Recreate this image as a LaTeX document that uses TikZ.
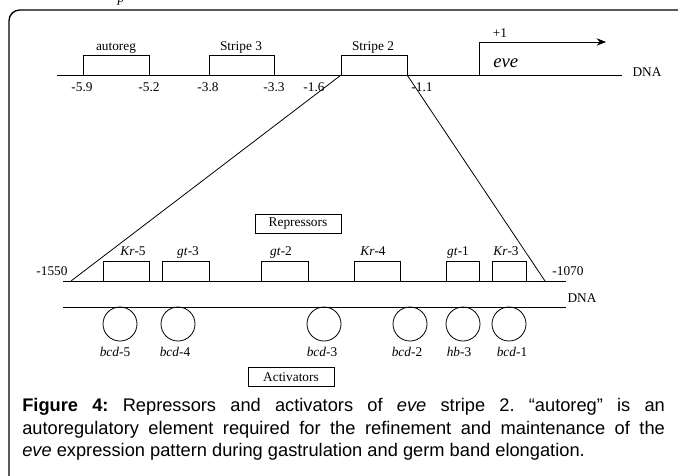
\documentclass[tikz,border=0pt]{standalone}
\usepackage{fontspec}
\setmainfont{Liberation Serif}
\newfontfamily\capfont{Liberation Sans}
\usetikzlibrary{fit,arrows.meta}

\begin{document}
\begin{tikzpicture}[x=0.75pt,y=0.75pt,yscale=-1,xscale=1,
  site/.style={draw, line width=0.6pt, inner sep=0pt},
  tag/.style={font=\fontsize{10}{12}\selectfont, inner sep=0pt, anchor=base},
  bind/.style={draw, circle, line width=0.6pt, minimum size=25.5pt, inner sep=0pt},
  legend/.style={draw, line width=0.6pt, minimum width=64.5pt, minimum height=14.5pt, inner sep=0pt, font=\fontsize{10}{12}\selectfont},
  dna/.style={line width=0.6pt}]
\useasboundingbox (0,0) rectangle (678,475);

%Frame
\draw [line width=1pt, rounded corners=8] (9,480) -- (9,10) -- (690,10) ;
% Text Node (cut off line above)
\node [tag, font=\itshape\fontsize{10}{12}\selectfont] (cut) at (121,2) {p};

%Straight Lines: upper DNA
\draw [dna] (57,75) -- (622,75) ;
\node [tag] (dnaup) at (647,76) {DNA};
%Shape: Rectangle
\node [site, fit={(83,55) (149,75)}] (autoreg) {};
\node [site, fit={(209,55) (274,75)}] (stripe3) {};
\node [site, fit={(341,55) (407,75)}] (stripe2) {};
% Text Node
\node [tag] (autoregtxt) at (116,50) {autoreg};
\node [tag] (stripe3txt) at (241,50) {Stripe 3};
\node [tag] (stripe2txt) at (373,50) {Stripe 2};
% Text Node
\node [tag] (m59) at (82,91) {-5.9};
\node [tag] (m52) at (149,91) {-5.2};
\node [tag] (m38) at (208,91) {-3.8};
\node [tag] (m33) at (274,91) {-3.3};
\node [tag] (m16) at (314,91) {-1.6};
\node [tag] (m11) at (422,91) {-1.1};

%Transcription start
\coordinate (tss) at (479,75) ;
\coordinate (tip) at (606,42) ;
\draw [dna, -{Stealth[length=7pt,width=5.5pt]}] (tss) |- (tip) ;
\node [tag] (plus1) at (500,37) {+1};
\node [tag, anchor=base west, font=\itshape\fontsize{14}{16}\selectfont] (eve) at (493,67) {eve};

%Zoom lines
\coordinate (lowleft) at (71,281) ;
\coordinate (lowright) at (545,281) ;
\draw [dna] (stripe2.south west) -- (lowleft) ;
\draw [dna] (stripe2.south east) -- (lowright) ;

%Straight Lines: lower DNA
\draw [dna] (63,281) -- (566,281) ;
\draw [dna] (63,307) -- (566,307) ;
\node [tag] (m1550) at (52,275) {-1550};
\node [tag] (m1070) at (568,275) {-1070};
\node [tag] (dnalow) at (582,302) {DNA};

%Repressor sites
\node [site, fit={(103,261) (149,281)}] (kr5) {};
\node [site, fit={(162,261) (209,281)}] (gt3) {};
\node [site, fit={(261,261) (308,281)}] (gt2) {};
\node [site, fit={(354,261) (400,281)}] (kr4) {};
\node [site, fit={(446,261) (479,281)}] (gt1) {};
\node [site, fit={(492,261) (526,281)}] (kr3) {};
% Text Node
\node [tag] (kr5txt) at (133,255) {\textit{Kr}-5};
\node [tag] (gt3txt) at (188,255) {\textit{gt}-3};
\node [tag] (gt2txt) at (281,255) {\textit{gt}-2};
\node [tag] (kr4txt) at (373,255) {\textit{Kr}-4};
\node [tag] (gt1txt) at (458,255) {\textit{gt}-1};
\node [tag] (kr3txt) at (506,255) {\textit{Kr}-3};
\node [legend] (repressors) at (298,224) {Repressors};

%Activator sites
\node [bind] (bcd5) at (120,324) {};
\node [bind] (bcd4) at (178,324) {};
\node [bind] (bcd3) at (324,324) {};
\node [bind] (bcd2) at (410,324) {};
\node [bind] (hb3) at (463,324) {};
\node [bind] (bcd1) at (509,324) {};
% Text Node
\node [tag] (bcd5txt) at (115,356) {\textit{bcd}-5};
\node [tag] (bcd4txt) at (175,356) {\textit{bcd}-4};
\node [tag] (bcd3txt) at (322,356) {\textit{bcd}-3};
\node [tag] (bcd2txt) at (407,356) {\textit{bcd}-2};
\node [tag] (hb3txt) at (459,356) {\textit{hb}-3};
\node [tag] (bcd1txt) at (512,356) {\textit{bcd}-1};
\node [legend] (activators) at (291,377) {Activators};

% Caption
\node [anchor=north west, text width=482pt, align=justify, inner sep=0pt, font=\capfont\fontsize{13.7}{16.9}\selectfont\frenchspacing] (caption) at (22,398) {\textbf{Figure 4:} Repressors and activators of \textit{eve} stripe 2. “autoreg” is an\linebreak autoregulatory element required for the refinement and maintenance of the\linebreak \textit{eve} expression pattern during gastrulation and germ band elongation.};

\end{tikzpicture}
\end{document}
